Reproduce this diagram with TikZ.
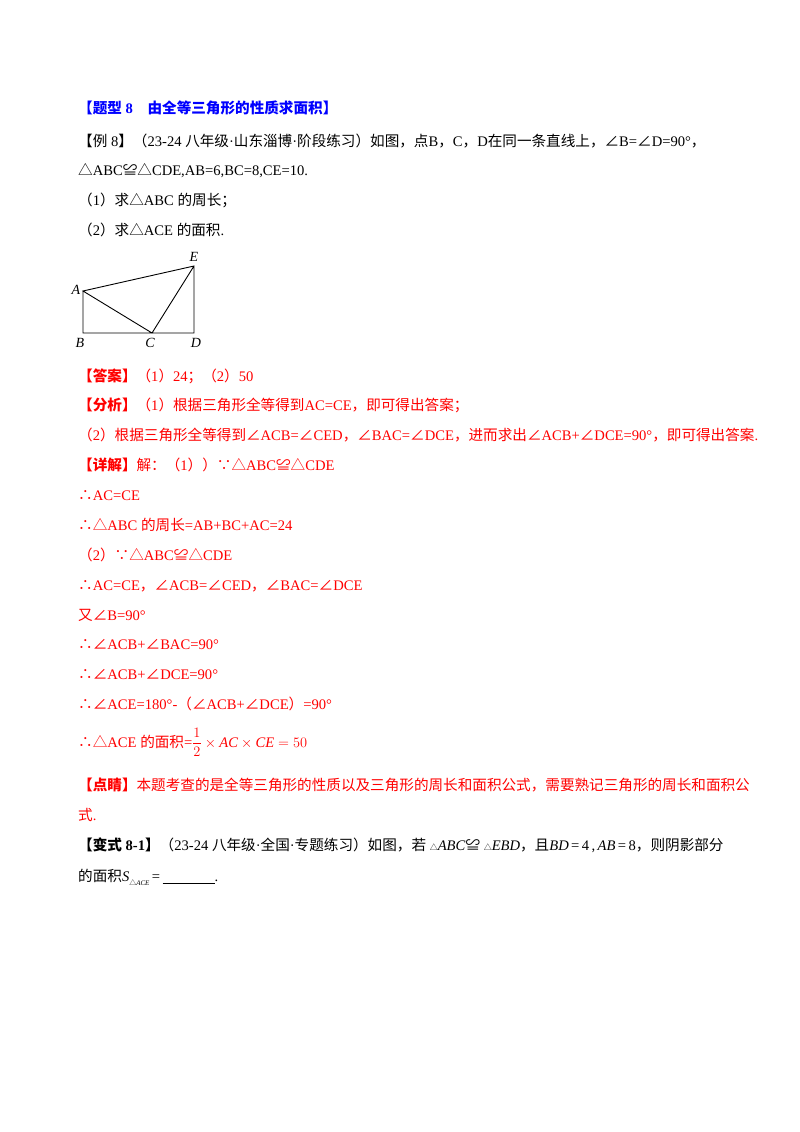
\documentclass[tikz,border=0pt]{standalone}
\usepackage{amsmath}
\usepackage{fontspec}
\setmainfont{Liberation Serif}
\newfontfamily\cjk{Noto Sans CJK SC}
\XeTeXinterchartokenstate=1
\newXeTeXintercharclass\cjkc
\count255="3000
\loop\ifnum\count255<"A000 \XeTeXcharclass\count255=\cjkc \advance\count255 by 1 \repeat
\count255="FF00
\loop\ifnum\count255<"FFF0 \XeTeXcharclass\count255=\cjkc \advance\count255 by 1 \repeat
\XeTeXcharclass"2220=\cjkc
\XeTeXcharclass"2235=\cjkc
\XeTeXcharclass"2234=\cjkc
\XeTeXcharclass"224C=\cjkc
\XeTeXcharclass"25B3=\cjkc
\XeTeXinterchartoks 0 \cjkc = {\begingroup\cjk}
\XeTeXinterchartoks 4095 \cjkc = {\begingroup\cjk}
\XeTeXinterchartoks \cjkc 0 = {\endgroup}
\XeTeXinterchartoks \cjkc 4095 = {\endgroup}
\definecolor{rd}{RGB}{255,0,0}
\definecolor{bl}{RGB}{0,0,255}
\begin{document}
\begin{tikzpicture}[x=1pt,y=-1pt,
  t/.style={anchor=base west,inner sep=0pt,font=\fontsize{14.6pt}{16pt}\selectfont},
  r/.style={t,text=rd},
  lab/.style={inner sep=0pt,font=\fontsize{14pt}{16pt}\selectfont\itshape},
  seg/.style={line width=0.9pt}]
\useasboundingbox (0,0) rectangle (800,1132);
\fill[white] (0,0) rectangle (800,1132);
\node[t,text=bl,font=\fontsize{14.6pt}{16pt}\selectfont\bfseries] (h) at (78,113) {【题型 8\quad 由全等三角形的性质求面积】};
\node[t] (l1) at (78,146) {【例 8】（23-24 八年级·山东淄博·阶段练习）如图，点B，C，D在同一条直线上，∠B=∠D=90°，};
\node[t] (l2) at (78,175) {△ABC≌△CDE,AB=6,BC=8,CE=10.};
\node[t] (l3) at (78,205) {（1）求△ABC 的周长；};
\node[t] (l4) at (78,235) {（2）求△ACE 的面积.};
\coordinate (A) at (83,291); \coordinate (B) at (83,333);
\coordinate (C) at (152,333); \coordinate (D) at (194,333); \coordinate (E) at (194,266);
\draw[seg] (A)--(B)--(D)--(E)--(A)--(C)--(E);
\node[lab] (lA) at (76,290) {A}; \node[lab] (lB) at (80,343) {B};
\node[lab] (lC) at (150,343) {C}; \node[lab] (lD) at (196,343) {D};
\node[lab] (lE) at (194,257) {E};
\node[r] (a1) at (78,381) {\bfseries【答案】\mdseries（1）24；（2）50};
\node[r] (a2) at (78,410) {\bfseries【分析】\mdseries（1）根据三角形全等得到AC=CE，即可得出答案；};
\node[r] (a3) at (78,440) {（2）根据三角形全等得到∠ACB=∠CED，∠BAC=∠DCE，进而求出∠ACB+∠DCE=90°，即可得出答案.};
\node[r] (a4) at (78,470) {\bfseries【详解】\mdseries 解：（1））∵△ABC≌△CDE};
\node[r] (a5) at (78,500) {∴AC=CE};
\node[r] (a6) at (78,530) {∴△ABC 的周长=AB+BC+AC=24};
\node[r] (a7) at (78,560) {（2）∵△ABC≌△CDE};
\node[r] (a8) at (78,590) {∴AC=CE，∠ACB=∠CED，∠BAC=∠DCE};
\node[r] (a9) at (78,620) {又∠B=90°};
\node[r] (a10) at (78,649) {∴∠ACB+∠BAC=90°};
\node[r] (a11) at (78,679) {∴∠ACB+∠DCE=90°};
\node[r] (a12) at (78,709) {∴∠ACE=180°-（∠ACB+∠DCE）=90°};
\node[r] (a13) at (78,747) {∴△ACE 的面积=$\dfrac{1}{2}\times \mathit{AC}\times \mathit{CE}=50$};
\node[r] (a14) at (78,790) {\bfseries【点睛】\mdseries 本题考查的是全等三角形的性质以及三角形的周长和面积公式，需要熟记三角形的周长和面积公};
\node[r] (a15) at (78,820) {式.};
\node[t] (b1) at (78,850) {\bfseries【变式 8-1】\mdseries（23-24 八年级·全国·专题练习）如图，若 {\footnotesize△}\textit{ABC}≌ {\footnotesize△}\textit{EBD}，且\textit{BD}\,=\,4\,,\,\textit{AB}\,=\,8，则阴影部分};
\node[t] (b2) at (78,881) {的面积\textit{S}{\raisebox{-4pt}{\scriptsize△\textit{ACE}}}\,=\,\underline{\hspace{52pt}}.};
\end{tikzpicture}
\end{document}
